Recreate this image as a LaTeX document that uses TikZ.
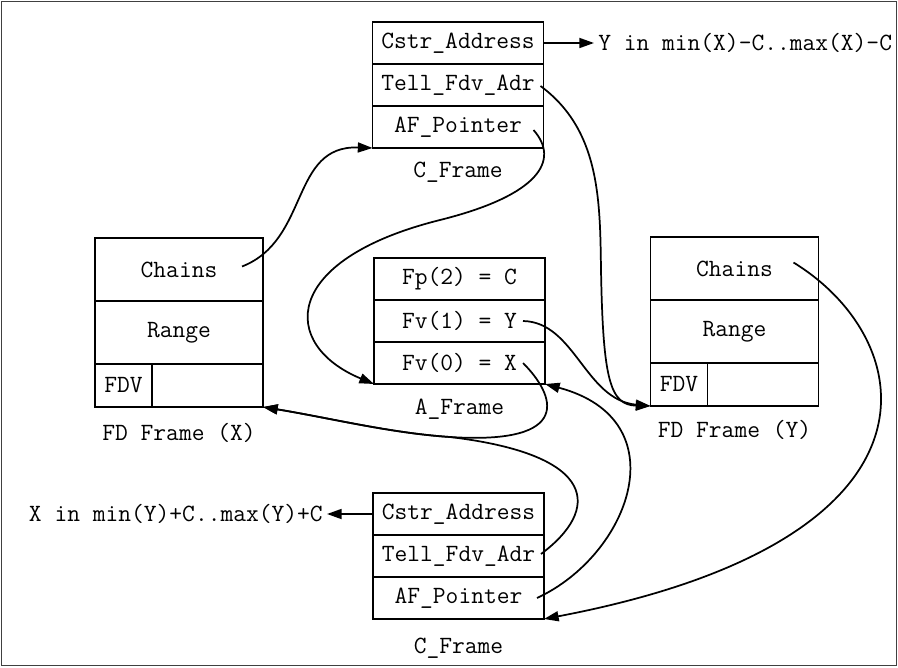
\documentclass[tikz,border=0pt]{standalone}
\usepackage{fontspec}
\usetikzlibrary{arrows.meta, calc, positioning}
\newcommand{\framefont}{\fontsize{18.6pt}{22pt}\selectfont\ttfamily}
\tikzset{
    frame cell/.style={draw, line width=1.3pt, outer sep=0pt, inner sep=0pt,
        font=\framefont, minimum width=128.25pt, minimum height=31.5pt},
    fd cell/.style={frame cell, minimum width=126pt, minimum height=47.25pt},
    fd row/.style={frame cell, minimum width=126pt, minimum height=32.25pt},
    fdv cell/.style={frame cell, minimum width=42.75pt, minimum height=32.25pt},
    frame label/.style={font=\framefont, inner sep=0pt},
    note/.style={font=\framefont, inner sep=3pt},
    ptr/.style={-{Triangle[length=11pt, width=7.5pt]}, line width=1.3pt},
}

\begin{document}
\begin{tikzpicture}[x=0.75pt, y=-0.75pt]

\useasboundingbox (0,0) rectangle (898,667);
\draw[line width=0.75pt, black!75] (1.5,1.5) rectangle (896.5,665.5);

% ===== C_FRAME (TOP) =====
\node[frame cell] (ctopaddr) at (458,43) {Cstr\_Address};
\node[frame cell, below=0pt of ctopaddr] (ctoptell) {Tell\_Fdv\_Adr};
\node[frame cell, below=0pt of ctoptell] (ctopaf) {AF\_Pointer};
\node[frame label] (ctoplabel) at ([yshift=-18pt]ctopaf.south) {C\_Frame};
\node[note, anchor=west] (ynote) at (594,43) {Y in min(X)-C..max(X)-C};

% ===== A_FRAME =====
\node[frame cell] (afp) at (459.5,279) {Fp(2) = C};
\node[frame cell, below=0pt of afp] (afv1) {Fv(1) = Y};
\node[frame cell, below=0pt of afv1] (afv0) {Fv(0) = X};
\node[frame label] (alabel) at ([yshift=-19pt]afv0.south) {A\_Frame};

% ===== FD FRAME (X) =====
\node[fd cell] (xchains) at (179,269.5) {Chains};
\node[fd cell, below=0pt of xchains] (xrange) {Range};
\node[fd row, below=0pt of xrange] (xbottom) {};
\node[fdv cell, anchor=south west] (xfdv) at (xbottom.south west) {FDV};
\node[frame label] (xlabel) at ([yshift=-19.5pt]xbottom.south) {FD Frame (X)};

% ===== FD FRAME (Y) =====
\node[fd cell] (ychains) at (734.5,268.5) {Chains};
\node[fd cell, below=0pt of ychains] (yrange) {Range};
\node[fd row, below=0pt of yrange] (ybottom) {};
\node[fdv cell, anchor=south west] (yfdv) at (ybottom.south west) {FDV};
\node[frame label] (ylabel) at ([yshift=-18pt]ybottom.south) {FD Frame (Y)};

% ===== C_FRAME (BOTTOM) =====
\node[frame cell] (cbotaddr) at (458.5,514) {Cstr\_Address};
\node[frame cell, below=0pt of cbotaddr] (cbottell) {Tell\_Fdv\_Adr};
\node[frame cell, below=0pt of cbottell] (cbotaf) {AF\_Pointer};
\node[frame label] (cbotlabel) at ([yshift=-21.75pt]cbotaf.south) {C\_Frame};
\node[note, anchor=east] (xnote) at (327,514) {X in min(Y)+C..max(Y)+C};

% ===== POINTERS =====
\draw[ptr] (ctopaddr.east) -- (ctopaddr.east -| ynote.west);
\draw[ptr] (cbotaddr.west) -- (cbotaddr.west -| xnote.east);
\draw[ptr] ($(xchains.east)+(-21,-3)$) .. controls (310,240) and (290,145) .. (ctopaf.south west);
\draw[ptr] ($(ctoptell.east)+(-3,1)$) .. controls (600,130) and (600,200) .. (601,270)
    .. controls (603,380) and (610,405) .. (yfdv.south west);
\draw[ptr] ($(ctopaf.east)+(-10,3)$) .. controls (560,160) and (540,195) .. (440,220)
    .. controls (280,260) and (280,345) .. (afv0.south west);
\draw[ptr] ($(afv1.east)+(-22,0)$) .. controls (575,322) and (585,400) .. (yfdv.south west);
\draw[ptr] ($(afv0.east)+(-22,0)$) .. controls (555,395) and (575,445) .. (450,437)
    .. controls (390,433) and (330,418) .. (xbottom.south east);
\draw[ptr] ($(cbottell.east)+(-3,-2)$) .. controls (600,510) and (600,455) .. (450,437)
    .. controls (390,433) and (330,418) .. (xbottom.south east);
\draw[ptr] ($(cbotaf.east)+(-7,0)$) .. controls (630,555) and (680,420) .. (afv0.south east);
\draw[ptr] ($(ychains.east)+(-25,-6)$) .. controls (920,340) and (960,540) .. (cbotaf.south east);

\end{tikzpicture}
\end{document}
